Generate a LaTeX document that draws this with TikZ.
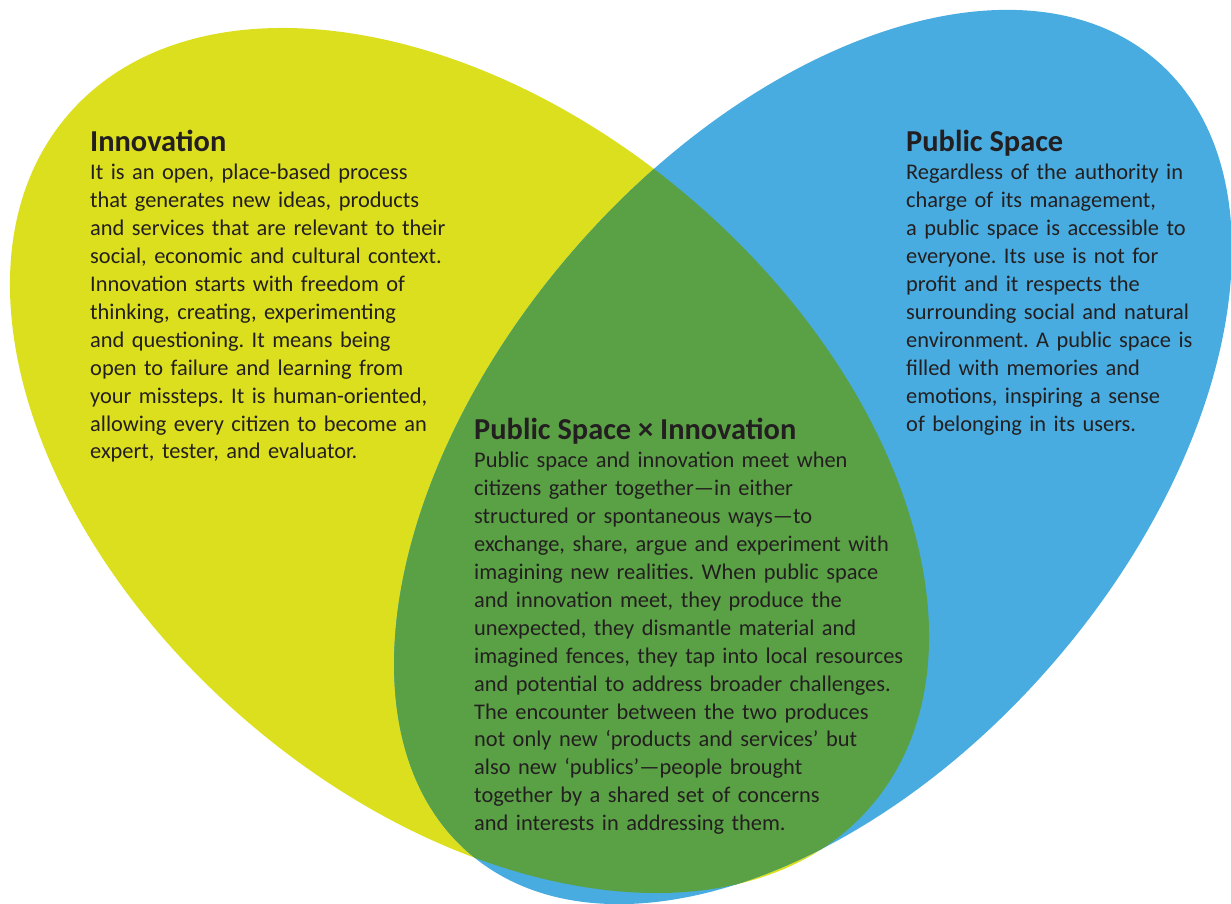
\documentclass[tikz,border=0pt]{standalone}
\usepackage{fontspec}
\setmainfont{Carlito}
\definecolor{yel}{HTML}{DCDF1E}
\definecolor{blu}{HTML}{48ACE0}
\definecolor{grn}{HTML}{5AA145}
\definecolor{ink}{HTML}{231F20}
\frenchspacing
\begin{document}
\begin{tikzpicture}[x=1pt,y=1pt,
  titletext/.style={anchor=base west, inner sep=0pt, text=ink, font=\bfseries\fontsize{30.4}{31}\selectfont},
  bodytext/.style={anchor=base west, inner sep=0pt, text=ink, align=left, text width=470pt, font=\fontsize{22.4}{27.9}\selectfont},
  yelshape/.style={rotate around={-40.76:(469.5,443.5)}},
  blushape/.style={rotate around={49:(813,447)}}]
\useasboundingbox (0,0) rectangle (1231,904);
\clip (0,0) rectangle (1231,904);
\fill[yel, yelshape] (469.5,443.5) ellipse [x radius=529.8pt, y radius=342.8pt];
\fill[blu, blushape] (813,447) ellipse [x radius=524.6pt, y radius=316.4pt];
\begin{scope}
  \clip[blushape] (813,447) ellipse [x radius=524.6pt, y radius=316.4pt];
  \fill[grn, yelshape] (469.5,443.5) ellipse [x radius=529.8pt, y radius=342.8pt];
\end{scope}

\node[titletext] (innotitle) at (90,752) {Innovation};
\node[bodytext] (innobody) at (90,724) {It is an open, place-based process\\
that generates new ideas, products\\
and services that are relevant to their\\
social, economic and cultural context.\\
Innovation starts with freedom of\\
thinking, creating, experimenting\\
and questioning. It means being\\
open to failure and learning from\\
your missteps. It is human-oriented,\\
allowing every citizen to become an\\
expert, tester, and evaluator.};

\node[titletext] (pstitle) at (906,752) {Public Space};
\node[bodytext] (psbody) at (906,724) {Regardless of the authority in\\
charge of its management,\\
a public space is accessible to\\
everyone. Its use is not for\\
profit and it respects the\\
surrounding social and natural\\
environment. A public space is\\
filled with memories and\\
emotions, inspiring a sense\\
of belonging in its users.};

\node[titletext] (bothtitle) at (474,464) {Public Space × Innovation};
\node[bodytext] (bothbody) at (474,436) {Public space and innovation meet when\\
citizens gather together—in either\\
structured or spontaneous ways—to\\
exchange, share, argue and experiment with\\
imagining new realities. When public space\\
and innovation meet, they produce the\\
unexpected, they dismantle material and\\
imagined fences, they tap into local resources\\
and potential to address broader challenges.\\
The encounter between the two produces\\
not only new ‘products and services’ but\\
also new ‘publics’—people brought\\
together by a shared set of concerns\\
and interests in addressing them.};
\end{tikzpicture}
\end{document}
